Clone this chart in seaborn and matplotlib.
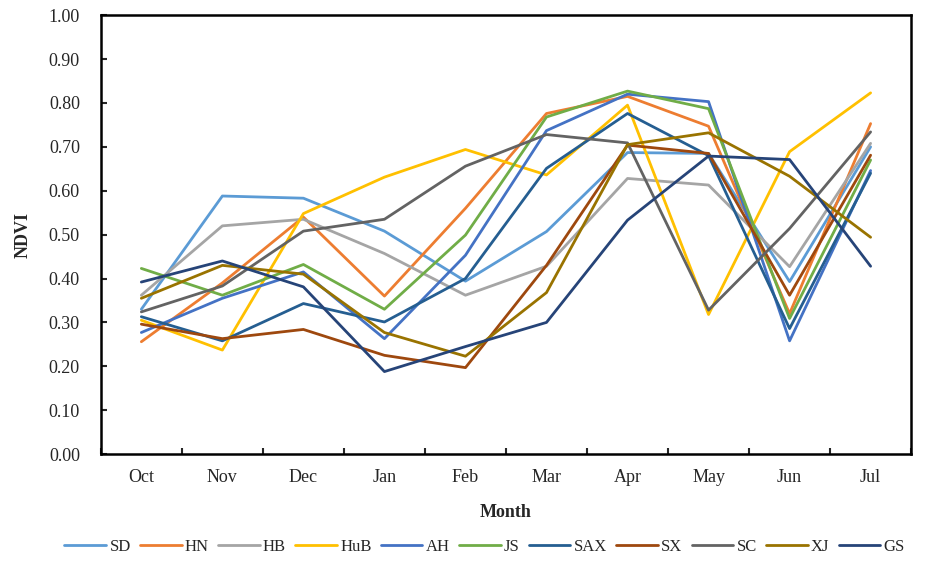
import pandas as pd
import seaborn as sns
import matplotlib.pyplot as plt
from matplotlib.ticker import FixedLocator, MultipleLocator

months = ['Oct', 'Nov', 'Dec', 'Jan', 'Feb', 'Mar', 'Apr', 'May', 'Jun', 'Jul']
regions = ['SD', 'HN', 'HB', 'HuB', 'AH', 'JS', 'SAX', 'SX', 'SC', 'XJ', 'GS']

sd = [0.330, 0.588, 0.583, 0.508, 0.394, 0.507, 0.687, 0.685, 0.393, 0.700]
hn = [0.256, 0.390, 0.540, 0.360, 0.560, 0.776, 0.815, 0.747, 0.320, 0.753]
hb = [0.362, 0.520, 0.535, 0.457, 0.362, 0.428, 0.628, 0.613, 0.427, 0.708]
hub = [0.305, 0.237, 0.548, 0.631, 0.694, 0.636, 0.795, 0.318, 0.689, 0.823]
ah = [0.277, 0.355, 0.415, 0.263, 0.453, 0.737, 0.820, 0.803, 0.258, 0.646]
js = [0.423, 0.362, 0.432, 0.330, 0.499, 0.768, 0.827, 0.787, 0.309, 0.670]
sax = [0.313, 0.258, 0.343, 0.301, 0.400, 0.651, 0.776, 0.680, 0.286, 0.640]
sx = [0.296, 0.263, 0.284, 0.225, 0.197, 0.430, 0.704, 0.685, 0.362, 0.681]
sc = [0.324, 0.383, 0.508, 0.535, 0.656, 0.728, 0.709, 0.328, 0.514, 0.734]
xj = [0.355, 0.430, 0.410, 0.277, 0.223, 0.368, 0.705, 0.732, 0.633, 0.494]
gs = [0.392, 0.440, 0.381, 0.188, 0.245, 0.300, 0.533, 0.679, 0.671, 0.428]

colors = ['#5B9BD5', '#ED7D31', '#A5A5A5', '#FFC000', '#4472C4', '#70AD47',
          '#255E91', '#9E480E', '#636363', '#997300', '#264478']

series = [sd, hn, hb, hub, ah, js, sax, sx, sc, xj, gs]
df = pd.DataFrame({
    'Month': months * len(regions),
    'pos': list(range(len(months))) * len(regions),
    'Region': [r for r in regions for _ in months],
    'NDVI': [v for s in series for v in s],
})

sns.set_style('white')
plt.rcParams['font.family'] = ['Liberation Serif', 'DejaVu Serif']

fig = plt.figure(figsize=(9.25, 5.62), dpi=100)
ax = fig.add_axes([0.109, 0.192, 0.876, 0.781])

sns.lineplot(data=df, x='pos', y='NDVI', hue='Region', hue_order=regions,
             palette=colors, linewidth=2, sort=False, ax=ax, legend=True)

ax.set_xlim(-0.5, len(months) - 0.5)
ax.set_ylim(0, 1.0)
ax.yaxis.set_major_locator(MultipleLocator(0.1))
ax.set_yticklabels([f'{v:.2f}' for v in ax.get_yticks()])
ax.xaxis.set_major_locator(FixedLocator(range(len(months))))
ax.set_xticklabels(months)
ax.xaxis.set_minor_locator(FixedLocator([i + 0.5 for i in range(-1, len(months))]))
ax.tick_params(axis='x', which='major', length=0, pad=11, labelsize=13)
ax.tick_params(axis='x', which='minor', length=4, width=1.5, direction='in', bottom=True)
ax.tick_params(axis='y', length=4, width=1.5, direction='in', left=True, labelsize=13, pad=15)

for sp in ax.spines.values():
    sp.set_linewidth(1.8)
    sp.set_color('black')

ax.set_xlabel('Month', fontsize=13, fontweight='bold', labelpad=13)
ax.set_ylabel('NDVI', fontsize=13, fontweight='bold', labelpad=12)

handles, labels = ax.get_legend_handles_labels()
ax.legend(handles, labels, ncol=11, loc='center', bbox_to_anchor=(0.524, 0.027),
          bbox_transform=fig.transFigure, frameon=False, fontsize=12,
          handlelength=2.5, columnspacing=0.55, handletextpad=0.2,
          borderpad=0.1)

plt.savefig('out.png', dpi=100)
